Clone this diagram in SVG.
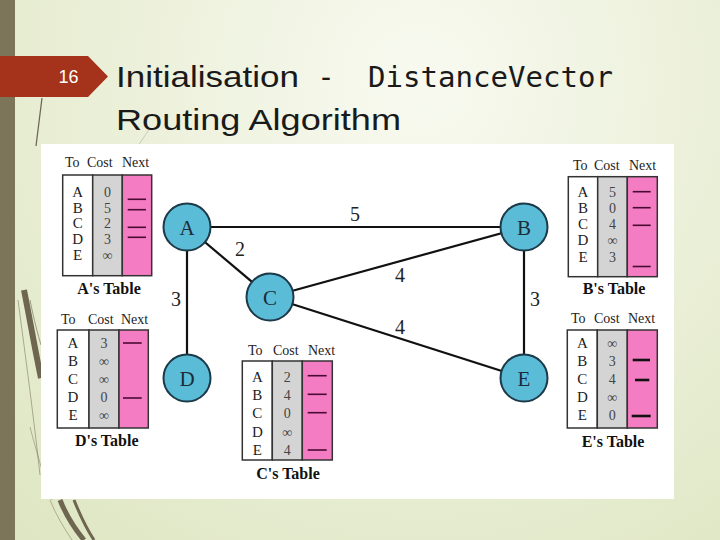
<svg xmlns="http://www.w3.org/2000/svg" width="720" height="540" viewBox="0 0 720 540">
<defs>
<radialGradient id="bg" cx="420" cy="80" r="640" gradientUnits="userSpaceOnUse">
<stop offset="0" stop-color="#f8faf0"/>
<stop offset="0.55" stop-color="#e9eed5"/>
<stop offset="1" stop-color="#dde5c0"/>
</radialGradient>
<style>
.edge{stroke:#111;stroke-width:2.2;fill:none}
.node{fill:#5bbcd8;stroke:#1d3a48;stroke-width:2}
.nl{font-family:"Liberation Serif",serif;font-size:21px;fill:#1a2c38;text-anchor:middle}
.el{font-family:"Liberation Serif",serif;font-size:20px;fill:#222;text-anchor:middle}
.hd{font-family:"Liberation Serif",serif;font-size:14px;fill:#222}
.rl{font-family:"Liberation Serif",serif;font-size:15px;fill:#222;text-anchor:middle}
.cv{font-family:"Liberation Serif",serif;font-size:14px;fill:#444;text-anchor:middle}
.cap{font-family:"Liberation Serif",serif;font-size:16px;font-weight:bold;fill:#111;text-anchor:middle}
.c1{fill:#fff;stroke:#333;stroke-width:1.5}
.c2{fill:#d4d4d4;stroke:#333;stroke-width:1.5}
.c3{fill:#f47cc2;stroke:#333;stroke-width:1.5}
.dash{stroke:#4a0b32;stroke-width:1.6}
.dashb{stroke:#111;stroke-width:2.6}
.deco{fill:none;stroke:#6e6650}
</style>
</defs>
<rect width="720" height="540" fill="url(#bg)"/>
<rect x="0" y="0" width="15" height="540" fill="#7d755a"/>
<g id="decor">
<path class="deco" d="M42,98 L36,146" stroke-width="1.2"/>
<path class="deco" d="M150,128 L138,146" stroke-width="0.8" opacity="0.35"/>
<path class="deco" d="M18,300 C26,360 34,420 40,475" stroke-width="1" opacity="0.5"/>
<path class="deco" d="M30,300 C34,320 38,335 41,345" stroke-width="1" opacity="0.6"/>
<path class="deco" d="M24,290 C30,320 35,350 41,378" stroke-width="6" stroke="#6a624a"/>
<path class="deco" d="M30,427 C36,450 44,478 52,500" stroke-width="1" opacity="0.45"/>
<path class="deco" d="M60,500 C66,515 74,528 84,540" stroke-width="5" stroke="#6a624a"/>
<path class="deco" d="M74,500 C80,515 86,528 94,540" stroke-width="3" stroke="#6a624a"/>
<path class="deco" d="M50,500 C56,515 64,528 72,540" stroke-width="1" opacity="0.45"/>
</g>
<g id="tag">
<path d="M0,56 L88,56 L108,76.5 L88,97 L0,97 Z" fill="#a5321a"/>
<text x="68.5" y="83" font-family="Liberation Sans,Arial,sans-serif" font-size="18" fill="#fff" text-anchor="middle">16</text>
</g>
<g id="title" fill="#1a1a1a" font-size="30">
<text x="116" y="87" font-family="Liberation Sans,Arial,sans-serif" textLength="183" lengthAdjust="spacingAndGlyphs">Initialisation</text>
<text x="321" y="87" font-family="Liberation Sans,Arial,sans-serif">-</text>
<text x="368" y="87" font-family="DejaVu Sans Mono,monospace" font-size="28" textLength="245" lengthAdjust="spacingAndGlyphs">DistanceVector</text>
<text x="116" y="130" font-family="Liberation Sans,Arial,sans-serif" textLength="285" lengthAdjust="spacingAndGlyphs">Routing Algorithm</text>
</g>
<rect id="panel" x="41" y="144" width="633" height="355" fill="#fff"/>
<g id="connectors">
<line class="edge" x1="187" y1="227" x2="524" y2="227"/>
<line class="edge" x1="187" y1="227" x2="270" y2="297"/>
<line class="edge" x1="187" y1="227" x2="187" y2="378"/>
<line class="edge" x1="270" y1="297" x2="524" y2="227"/>
<line class="edge" x1="270" y1="297" x2="524" y2="378"/>
<line class="edge" x1="524" y1="227" x2="524" y2="378"/>
<text class="el" x="355" y="220.5">5</text>
<text class="el" x="240" y="256">2</text>
<text class="el" x="176" y="306">3</text>
<text class="el" x="400" y="281.5">4</text>
<text class="el" x="400" y="333.5">4</text>
<text class="el" x="535" y="306">3</text>
</g>
<g id="node-A"><circle class="node" cx="187" cy="227" r="23.5"/><text class="nl" x="187" y="234.5">A</text></g>
<g id="node-B"><circle class="node" cx="524" cy="227" r="23.5"/><text class="nl" x="524" y="234.5">B</text></g>
<g id="node-C"><circle class="node" cx="270" cy="297" r="23.5"/><text class="nl" x="270" y="304.5">C</text></g>
<g id="node-D"><circle class="node" cx="187" cy="378" r="23.5"/><text class="nl" x="187" y="385.5">D</text></g>
<g id="node-E"><circle class="node" cx="524" cy="378" r="23.5"/><text class="nl" x="524" y="385.5">E</text></g>

<g id="table-A">
<text class="hd" x="65" y="167">To</text><text class="hd" x="87" y="167">Cost</text><text class="hd" x="122" y="167">Next</text>
<rect class="c1" x="62.7" y="175" width="30" height="100.7"/>
<rect class="c2" x="92.7" y="175" width="29.6" height="100.7"/>
<rect class="c3" x="122.3" y="175" width="29.4" height="100.7"/>
<text class="rl" x="77.7" y="197">A</text><text class="rl" x="77.7" y="212.5">B</text><text class="rl" x="77.7" y="228">C</text><text class="rl" x="77.7" y="244">D</text><text class="rl" x="77.7" y="260">E</text>
<text class="cv" x="107.5" y="197">0</text><text class="cv" x="107.5" y="212.5">5</text><text class="cv" x="107.5" y="228">2</text><text class="cv" x="107.5" y="244">3</text><text class="cv" x="107.5" y="260">∞</text>
<line class="dash" x1="127.7" y1="199.3" x2="146" y2="199.3"/><line class="dash" x1="127.7" y1="209.7" x2="146" y2="209.7"/><line class="dash" x1="127.7" y1="227.3" x2="146" y2="227.3"/><line class="dash" x1="127.7" y1="237.3" x2="146" y2="237.3"/>
<text class="cap" x="109" y="294">A's Table</text>
</g>

<g id="table-B">
<text class="hd" x="573" y="170">To</text><text class="hd" x="594" y="170">Cost</text><text class="hd" x="629" y="170">Next</text>
<rect class="c1" x="568.3" y="176.7" width="29.4" height="100"/>
<rect class="c2" x="597.7" y="176.7" width="29.6" height="100"/>
<rect class="c3" x="627.3" y="176.7" width="30" height="100"/>
<text class="rl" x="583" y="197">A</text><text class="rl" x="583" y="213">B</text><text class="rl" x="583" y="229">C</text><text class="rl" x="583" y="245">D</text><text class="rl" x="583" y="262">E</text>
<text class="cv" x="612.5" y="197">5</text><text class="cv" x="612.5" y="213">0</text><text class="cv" x="612.5" y="229">4</text><text class="cv" x="612.5" y="245">∞</text><text class="cv" x="612.5" y="262">3</text>
<line class="dash" x1="632.7" y1="191.7" x2="650.7" y2="191.7"/><line class="dash" x1="632.7" y1="207.7" x2="650.7" y2="207.7"/><line class="dash" x1="632.7" y1="225.3" x2="650.7" y2="225.3"/><line class="dash" x1="632.7" y1="266.5" x2="650.7" y2="266.5"/>
<text class="cap" x="614" y="294">B's Table</text>
</g>

<g id="table-D">
<text class="hd" x="61" y="324">To</text><text class="hd" x="88" y="324">Cost</text><text class="hd" x="121" y="324">Next</text>
<rect class="c1" x="57.3" y="330" width="31.7" height="98"/>
<rect class="c2" x="89" y="330" width="30" height="98"/>
<rect class="c3" x="119" y="330" width="29.3" height="98"/>
<text class="rl" x="73" y="348">A</text><text class="rl" x="73" y="366">B</text><text class="rl" x="73" y="384">C</text><text class="rl" x="73" y="402">D</text><text class="rl" x="73" y="420">E</text>
<text class="cv" x="104" y="348">3</text><text class="cv" x="104" y="366">∞</text><text class="cv" x="104" y="384">∞</text><text class="cv" x="104" y="402">0</text><text class="cv" x="104" y="420">∞</text>
<line class="dash" x1="123" y1="343" x2="141.7" y2="343"/><line class="dash" x1="123" y1="398" x2="141.7" y2="398"/>
<text class="cap" x="106.7" y="446">D's Table</text>
</g>

<g id="table-C">
<text class="hd" x="248" y="355">To</text><text class="hd" x="273" y="355">Cost</text><text class="hd" x="308" y="355">Next</text>
<rect class="c1" x="242.3" y="361" width="30" height="99"/>
<rect class="c2" x="272.3" y="361" width="30" height="99"/>
<rect class="c3" x="302.3" y="361" width="30" height="99"/>
<text class="rl" x="257.3" y="381.5">A</text><text class="rl" x="257.3" y="399.5">B</text><text class="rl" x="257.3" y="418">C</text><text class="rl" x="257.3" y="436.5">D</text><text class="rl" x="257.3" y="455">E</text>
<text class="cv" x="287.3" y="381.5">2</text><text class="cv" x="287.3" y="399.5">4</text><text class="cv" x="287.3" y="418">0</text><text class="cv" x="287.3" y="436.5">∞</text><text class="cv" x="287.3" y="455">4</text>
<line class="dash" x1="307.7" y1="375.7" x2="326.7" y2="375.7"/><line class="dash" x1="307.7" y1="394.3" x2="326.7" y2="394.3"/><line class="dash" x1="307.7" y1="412.7" x2="326.7" y2="412.7"/><line class="dash" x1="307.7" y1="450" x2="326.7" y2="450"/>
<text class="cap" x="288" y="479">C's Table</text>
</g>

<g id="table-E">
<text class="hd" x="571" y="323">To</text><text class="hd" x="594" y="323">Cost</text><text class="hd" x="628" y="323">Next</text>
<rect class="c1" x="567.3" y="330" width="30" height="98"/>
<rect class="c2" x="597.3" y="330" width="30" height="98"/>
<rect class="c3" x="627.3" y="330" width="30" height="98"/>
<text class="rl" x="582.3" y="348">A</text><text class="rl" x="582.3" y="366">B</text><text class="rl" x="582.3" y="384">C</text><text class="rl" x="582.3" y="402">D</text><text class="rl" x="582.3" y="420">E</text>
<text class="cv" x="612.3" y="348">∞</text><text class="cv" x="612.3" y="366">3</text><text class="cv" x="612.3" y="384">4</text><text class="cv" x="612.3" y="402">∞</text><text class="cv" x="612.3" y="420">0</text>
<line class="dashb" x1="632.7" y1="360" x2="650" y2="360"/><line class="dashb" x1="635" y1="380" x2="649.3" y2="380"/><line class="dashb" x1="631.7" y1="416" x2="650.7" y2="416"/>
<text class="cap" x="613" y="447">E's Table</text>
</g>
</svg>
